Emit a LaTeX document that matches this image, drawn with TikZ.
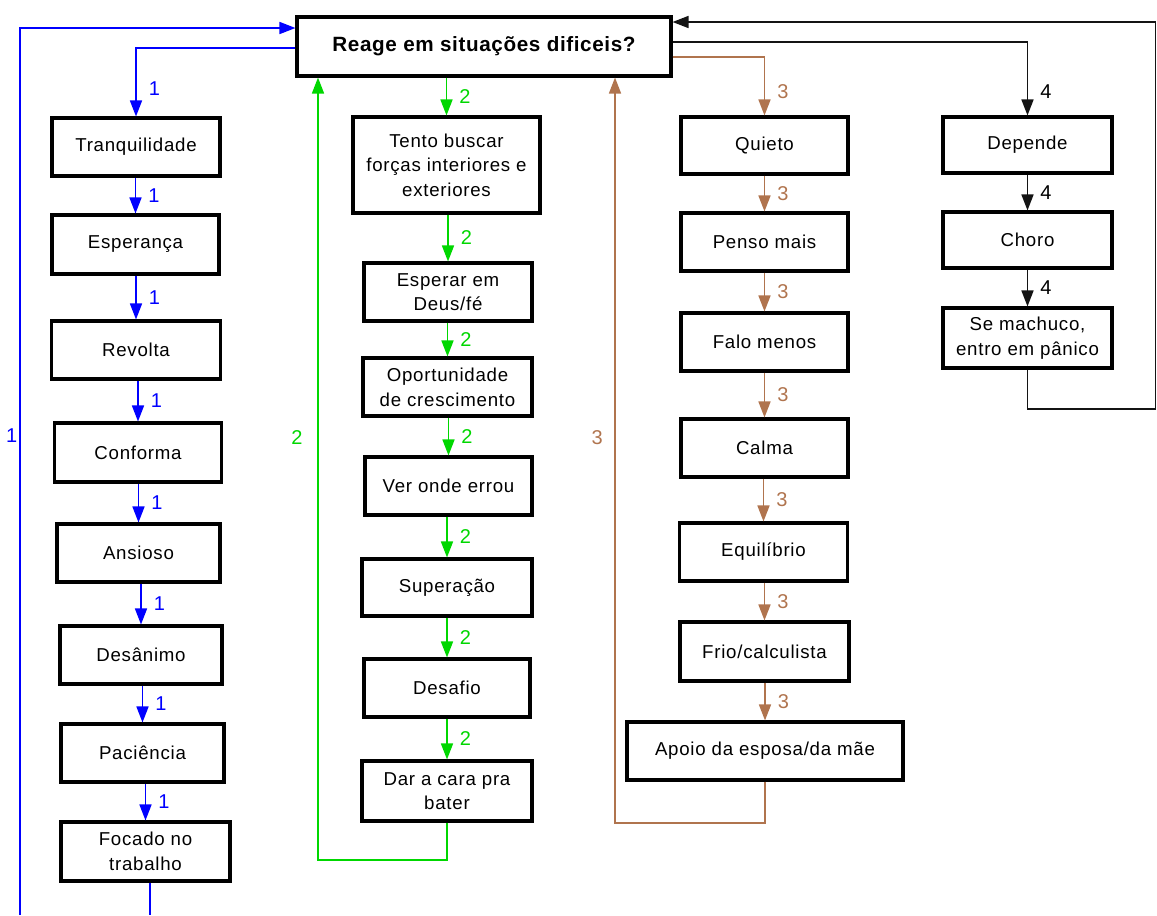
\documentclass[tikz,border=0pt]{standalone}
\usepackage{fontspec}
\setmainfont{Liberation Sans}[LetterSpace=4]
\newfontfamily\titlefont{Liberation Sans}[LetterSpace=3]
\newfontfamily\numfont{Liberation Sans}
\usetikzlibrary{arrows.meta}
\definecolor{lineblue}{RGB}{0,0,255}
\definecolor{linegreen}{RGB}{0,215,0}
\definecolor{linebrown}{RGB}{176,116,78}
\definecolor{lineblack}{RGB}{20,20,20}

\begin{document}
\begin{tikzpicture}[x=0.75pt,y=-0.75pt,
  box/.style={draw=black, line width=2.3pt, fill=white, align=center, inner sep=0pt,
    font=\fontsize{14}{18.5}\selectfont},
  sz/.style 2 args={minimum width=#1*0.75pt, minimum height=#2*0.75pt},
  tip/.style={-{Triangle[length=12pt,width=9pt]}},
  link/.style={line width=1.2pt},
  bconn/.style={link, draw=lineblue, tip},
  gconn/.style={link, draw=linegreen, tip},
  nconn/.style={link, draw=linebrown, tip},
  kconn/.style={link, draw=lineblack, tip},
  lbl/.style={font=\numfont\fontsize{15}{15}\selectfont, inner sep=0pt},
  rlbl/.style={lbl, right=9pt},
]
\useasboundingbox (0,0) rectangle (1157,915);

% central question
\node[box, sz={374}{59}, font=\titlefont\bfseries\fontsize{15.5}{18}\selectfont] (top) at (484,46.5) {Reage em situações dificeis?};

% branch 1
\node[box, sz={168}{58}] (tranq) at (136,147)   {Tranquilidade};
\node[box, sz={167}{59}] (esp)   at (135.5,244.5) {Esperança};
\node[box, sz={169}{58}] (rev)   at (136,350)   {Revolta};
\node[box, sz={167}{59}] (conf)  at (138,452.5) {Conforma};
\node[box, sz={163}{58}] (ans)   at (138.5,553) {Ansioso};
\node[box, sz={162}{58}] (desan) at (141,655)   {Desânimo};
\node[box, sz={163}{58}] (pac)   at (142.5,753) {Paciência};
\node[box, sz={169}{59}] (foc)   at (145.5,851.5) {Focado no\\trabalho};

% branch 2
\node[box, sz={187}{96}] (tento) at (446.5,165) {Tento buscar\\forças interiores e\\exteriores};
\node[box, sz={168}{58}] (deus)  at (448,292)   {Esperar em\\Deus/fé};
\node[box, sz={169}{58}] (oport) at (447.5,387) {Oportunidade\\de crescimento};
\node[box, sz={167}{58}] (ver)   at (448.5,486) {Ver onde errou};
\node[box, sz={170}{57}] (super) at (447,587.5) {Superação};
\node[box, sz={166}{58}] (desaf) at (447,688)   {Desafio};
\node[box, sz={170}{60}] (dar)   at (447,791)   {Dar a cara pra\\bater};

% branch 3
\node[box, sz={167}{57}] (quieto) at (764.5,145.5) {Quieto};
\node[box, sz={167}{58}] (penso)  at (764.5,242)   {Penso mais};
\node[box, sz={167}{58}] (falo)   at (764.5,342)   {Falo menos};
\node[box, sz={167}{58}] (calma)  at (764.5,448)   {Calma};
\node[box, sz={168}{58}] (equil)  at (763.5,552)   {Equilíbrio};
\node[box, sz={169}{59}] (frio)   at (764.5,651.5) {Frio/calculista};
\node[box, sz={276}{58}] (apoio)  at (765,751)     {Apoio da esposa/da mãe};

% branch 4
\node[box, sz={169}{56}] (dep)   at (1027.5,145) {Depende};
\node[box, sz={169}{56}] (choro) at (1027.5,240) {Choro};
\node[box, sz={169}{60}] (mach)  at (1027.5,338) {Se machuco,\\entro em pânico};

% ---- branch 1 connectors
\draw[bconn] (top.west |- 0,48) -| node[pos=0.8, rlbl, text=lineblue] {1} (tranq.north);
\foreach \a/\b in {tranq/esp, esp/rev, rev/conf, conf/ans, ans/desan, desan/pac, pac/foc}
  \draw[bconn] (\a.south -| \b.north) -- node[rlbl, text=lineblue] {1} (\b.north);
\coordinate (blueout) at (150,915);
\coordinate (bluein) at (20,915);
\draw[link, draw=lineblue] (foc.south -| blueout) -- (blueout);
\draw[bconn] (bluein) |- node[pos=0.27, lbl, left=1.5pt, text=lineblue] {1} (top.west |- 0,28);

% ---- branch 2 connectors
\draw[gconn] (top.south -| tento.north) -- node[rlbl, text=linegreen] {2} (tento.north);
\foreach \a/\b in {tento/deus, deus/oport, oport/ver, ver/super, super/desaf, desaf/dar}
  \draw[gconn] (\a.south -| \b.north) -- node[rlbl, text=linegreen] {2} (\b.north);
\coordinate (greenturn) at (318,860);
\draw[gconn] (dar.south) |- (greenturn) -- node[pos=0.54, lbl, left=11pt, text=linegreen] {2} (top.south -| greenturn);

% ---- branch 3 connectors
\draw[nconn] (top.east |- 0,57) -| node[pos=0.8, rlbl, text=linebrown] {3} (quieto.north);
\foreach \a/\b in {quieto/penso, penso/falo, falo/calma, calma/equil, equil/frio, frio/apoio}
  \draw[nconn] (\a.south -| \b.north) -- node[rlbl, text=linebrown] {3} (\b.north);
\coordinate (brownturn) at (615,823);
\draw[nconn] (apoio.south) |- (brownturn) -- node[pos=0.517, lbl, left=8.5pt, text=linebrown] {3} (top.south -| brownturn);

% ---- branch 4 connectors
\draw[kconn] (top.east |- 0,42) -| node[pos=0.84, rlbl, text=black] {4} (dep.north);
\foreach \a/\b in {dep/choro, choro/mach}
  \draw[kconn] (\a.south -| \b.north) -- node[rlbl, text=black] {4} (\b.north);
\coordinate (blackturn) at (1155.5,409);
\draw[kconn] (mach.south) |- (blackturn) |- (top.east |- 0,22);
\end{tikzpicture}
\end{document}
